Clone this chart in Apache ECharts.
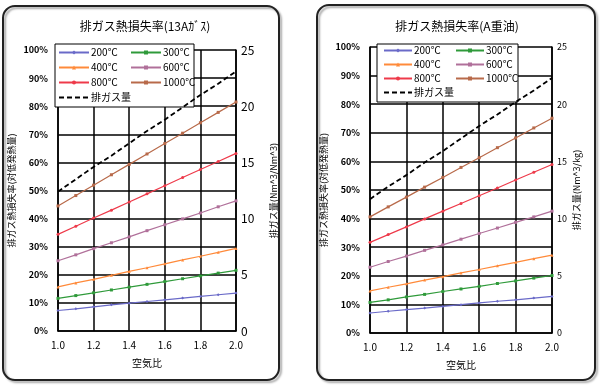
<!DOCTYPE html>
<html><head><meta charset="utf-8">
<script src="https://cdn.jsdelivr.net/npm/echarts@6/dist/echarts.min.js"></script>
<style>html,body{margin:0;padding:0;background:#fff}#c{width:600px;height:387px}</style>
</head><body><div id="c"></div>
<script>
const airRatio = [1.0,1.1,1.2,1.3,1.4,1.5,1.6,1.7,1.8,1.9,2.0];
const seriesNames = ['200℃','300℃','400℃','600℃','800℃','1000℃','排ガス量'];
// 13A gas (left chart) heat loss %
const gas200 = [7.3,7.9,8.6,9.3,9.9,10.5,11.1,11.7,12.3,12.9,13.5];
const gas300 = [11.6,12.6,13.6,14.6,15.6,16.6,17.6,18.6,19.6,20.6,21.6];
const gas400 = [15.7,17.1,18.4,19.8,21.2,22.5,23.9,25.3,26.6,28.0,29.4];
const gas600 = [25.0,27.1,29.3,31.4,33.5,35.7,37.8,39.9,42.0,44.2,46.3];
const gas800 = [34.4,37.3,40.2,43.0,45.9,48.8,51.7,54.6,57.5,60.3,63.2];
const gas1000 = [44.5,48.2,51.9,55.6,59.3,63.0,66.7,70.4,74.1,77.8,81.5];
const gasVolume = [12.4,13.5,14.6,15.6,16.7,17.8,18.8,19.9,21.0,22.0,23.1];
// A heavy oil (right chart)
const oil200 = [7.0,7.6,8.2,8.7,9.3,9.9,10.5,11.1,11.6,12.2,12.8];
const oil300 = [10.7,11.6,12.6,13.5,14.5,15.4,16.3,17.3,18.2,19.2,20.1];
const oil400 = [14.7,16.0,17.2,18.5,19.7,21.0,22.2,23.5,24.7,26.0,27.2];
const oil600 = [23.0,25.0,26.9,28.9,30.8,32.8,34.8,36.7,38.7,40.6,42.6];
const oil800 = [31.7,34.4,37.1,39.9,42.6,45.3,48.0,50.7,53.5,56.2,58.9];
const oil1000 = [40.6,44.1,47.5,51.0,54.4,57.9,61.3,64.8,68.2,71.7,75.1];
const oilVolume = [11.7,12.8,13.8,14.9,15.9,17.0,18.1,19.1,20.2,21.2,22.3];

const colors = ['#6a6ac8','#2f9a3a','#ff8a3a','#b0709a','#ee3a4a','#b86a4a','#000000'];
const symbols = ['diamond','rect','triangle','rect','circle','rect','none'];
const FONT = '"Noto Sans CJK JP", sans-serif';

const pair = arr => arr.map((v,i)=>[airRatio[i], v]);

function makeSeries(sets, xi, yi, yv) {
  return sets.map((arr, k) => ({
    name: seriesNames[k], type: 'line',
    xAxisIndex: xi, yAxisIndex: k === 6 ? yv : yi,
    data: pair(arr),
    symbol: symbols[k], symbolSize: 3, showSymbol: k!==6,
    lineStyle: {color: colors[k], width: k===6?1.8:1.2, type: k===6?[5,3]:'solid'},
    itemStyle: {color: colors[k]},
    animation: false
  }));
}

const chart = echarts.init(document.getElementById('c'));
const xAxisBase = (gi) => ({
  type:'value', gridIndex: gi, min:1.0, max:2.0, interval:0.2,
  name:'空気比', nameLocation:'middle', nameGap: 27,
  nameTextStyle:{fontFamily:FONT, fontSize:10, color:'#000'},
  axisLine:{lineStyle:{color:'#000', width:1.5}},
  axisTick:{show:false},
  axisLabel:{formatter: v => v.toFixed(1), fontFamily:FONT, fontSize:10, color:'#000', margin:9},
  splitLine:{show:true, lineStyle:{color:'#000', width:1.5}}
});
const yLeft = (gi, gap) => ({
  type:'value', gridIndex: gi, min:0, max:100, interval:10, position:'left',
  name:'排ガス熱損失率(対低発熱量)', nameLocation:'middle', nameRotate:90, nameGap: gap,
  nameTextStyle:{fontFamily:FONT, fontSize:9, color:'#000'},
  axisLine:{show:true, lineStyle:{color:'#000', width:1.5}},
  axisTick:{show:false},
  axisLabel:{formatter: v => v + '%', fontFamily:FONT, fontSize:9, fontWeight:'bold', color:'#000', margin:10},
  splitLine:{show:true, lineStyle:{color:'#000', width:1.5}}
});
const yRight = (gi, name, gap, fs, margin) => ({
  type:'value', gridIndex: gi, min:0, max:25, interval:5, position:'right',
  name: name, nameLocation:'middle', nameRotate:90, nameGap: gap,
  nameTextStyle:{fontFamily:FONT, fontSize:9, color:'#000'},
  axisLine:{show:true, lineStyle:{color:'#000', width:1.5}},
  axisTick:{show:false},
  axisLabel:{fontFamily:FONT, fontSize:fs, color:'#000', margin:margin},
  splitLine:{show:false}
});

const legendBase = (left, top, names, gap, w) => ({
  left, top, orient:'vertical',
  data: names.map(n => n === '排ガス量' ? {name:n, itemStyle:{opacity:0}} : {name:n}),
  itemGap: gap, itemWidth: w, itemHeight: 5,
  padding:0, z: 5,
  textStyle:{fontFamily:FONT, fontSize:10, lineHeight:11, color:'#000', padding:[0,0,0,-3]}
});

chart.setOption({
  animation:false,
  textStyle:{fontFamily:FONT},
  title:[
    {text:'排ガス熱損失率(13Aｶﾞｽ)', left:140, top:15, textAlign:'center',
     textStyle:{fontFamily:FONT, fontSize:12, fontWeight:'normal', color:'#000'}},
    {text:'排ガス熱損失率(A重油)', left:452, top:15, textAlign:'center',
     textStyle:{fontFamily:FONT, fontSize:12, fontWeight:'normal', color:'#000'}}
  ],
  grid:[
    {left:58, top:50, width:178, height:281},
    {left:370, top:47, width:182, height:286}
  ],
  xAxis:[xAxisBase(0), xAxisBase(1)],
  yAxis:[
    yLeft(0, 42),
    yRight(0, '排ガス量(Nm^3/Nm^3)', 33, 12, 5),
    yLeft(1, 42),
    yRight(1, '排ガス量(Nm^3/kg)', 20, 9, 5)
  ],
  legend:[
    legendBase(58, 47, ['200℃','400℃','800℃','排ガス量'], 4, 30),
    legendBase(130, 47, ['300℃','600℃','1000℃'], 4, 30),
    legendBase(383, 45, ['200℃','400℃','800℃','排ガス量'], 3, 28),
    legendBase(455, 45, ['300℃','600℃','1000℃'], 3, 28)
  ],
  graphic:[
    {type:'rect', shape:{x:3, y:6, width:276, height:374, r:12}, z:-1,
     style:{fill:'none', stroke:'#222', lineWidth:2, shadowColor:'rgba(0,0,0,0.35)', shadowOffsetX:2, shadowOffsetY:2, shadowBlur:2}},
    {type:'rect', shape:{x:317, y:5, width:278, height:375, r:12}, z:-1,
     style:{fill:'none', stroke:'#222', lineWidth:2, shadowColor:'rgba(0,0,0,0.35)', shadowOffsetX:2, shadowOffsetY:2, shadowBlur:2}},
    {type:'rect', shape:{x:55, y:44, width:139, height:63}, z:3,
     style:{fill:'#fff', stroke:'#000', lineWidth:1}},
    {type:'rect', shape:{x:377, y:44, width:141, height:58}, z:3,
     style:{fill:'#fff', stroke:'#000', lineWidth:1}}
  ],
  series:[
    ...makeSeries([gas200,gas300,gas400,gas600,gas800,gas1000,gasVolume], 0, 0, 1),
    ...makeSeries([oil200,oil300,oil400,oil600,oil800,oil1000,oilVolume], 1, 2, 3)
  ]
});
</script></body></html>
